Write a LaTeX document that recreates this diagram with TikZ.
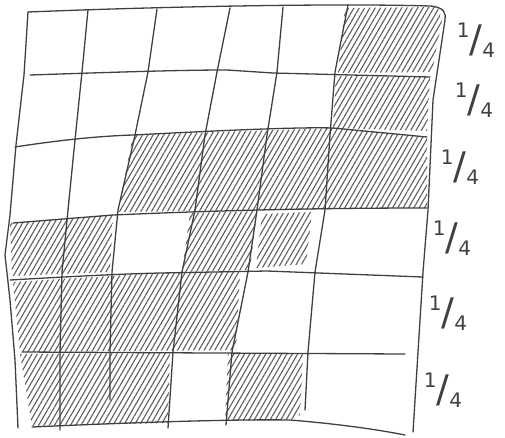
\documentclass[tikz,border=0pt]{standalone}
\usepackage{fontspec}
\setmainfont{DejaVu Sans}
\usetikzlibrary{patterns.meta}
\definecolor{ink}{HTML}{404040}
\tikzset{
  gridline/.style={draw=ink, line width=1.3pt, line cap=round, line join=round},
  hatch/.style={pattern={Lines[angle=60, distance=4.6pt, line width=1.1pt]}, pattern color=ink!85},
  frac/.style={text=ink, inner sep=0pt},
}
\newcommand{\quart}{{\fontsize{20}{20}\selectfont\raisebox{10pt}{1}\raisebox{-5pt}{\scalebox{1.9}{/}}\raisebox{-10pt}{4}}}
\begin{document}
\begin{tikzpicture}[x=1pt,y=-1pt]
\useasboundingbox (0,0) rectangle (505,437);
% hatched regions
\fill[hatch] (345,8) -- (438,7) -- (442,20) -- (432,72) -- (338,73) -- cycle;
\fill[hatch] (336,76) -- (430,77) -- (427,131) -- (333,128) -- cycle;
\fill[hatch] (133,135) -- (333,128) -- (427,137) -- (427,208) -- (118,212) -- cycle;
\fill[hatch] (10,223) -- (113,215) -- (110,272) -- (12,276) -- cycle;
\fill[hatch] (190,213) -- (257,211) -- (250,270) -- (182,272) -- cycle;
\fill[hatch] (262,214) -- (312,212) -- (306,264) -- (256,268) -- cycle;
\fill[hatch] (13,282) -- (160,273) -- (240,272) -- (236,350) -- (20,352) -- cycle;
\fill[hatch] (20,354) -- (170,353) -- (168,423) -- (32,426) -- cycle;
\fill[hatch] (228,354) -- (303,354) -- (300,415) -- (290,420) -- (225,421) -- cycle;
% outer border
\draw[gridline] (28,12) .. controls (150,7) and (330,3) .. (430,6)
  .. controls (445,7) and (446,14) .. (445,20)
  -- (433,100) -- (428,210) -- (423,272) -- (418,352) -- (413,432);
\draw[gridline] (28,12) -- (24,75) -- (16,145) -- (10,215) -- (5,255) -- (10,300) -- (15,360) -- (18,428);
\draw[gridline] (32,427) .. controls (120,423) and (230,419) .. (290,420) .. controls (340,424) and (380,430) .. (405,435);
% vertical lines
\draw[gridline] (88,10) -- (82,72) -- (75,140) -- (68,210) -- (62,272) -- (60,352) -- (60,430);
\draw[gridline] (157,9) -- (148,72) -- (135,135) -- (118,210) -- (112,272) -- (110,352) -- (110,400);
\draw[gridline] (230,8) -- (217,72) -- (205,135) -- (195,210) -- (182,272) -- (173,352) -- (168,428);
\draw[gridline] (283,7) -- (277,72) -- (267,135) -- (257,210) -- (248,272) -- (232,352) -- (226,425);
\draw[gridline] (348,5) -- (335,72) -- (330,135) -- (325,210) -- (315,272) -- (308,352) -- (305,410);
% horizontal lines
\draw[gridline] (30,75) .. controls (120,72) and (180,70) .. (227,70) -- (273,73) -- (430,77);
\draw[gridline] (15,147) .. controls (60,140) and (100,136) .. (133,135) .. controls (230,130) and (300,127) .. (333,128) -- (427,137);
\draw[gridline] (13,223) -- (113,215) .. controls (250,209) and (350,208) .. (427,208);
\draw[gridline] (10,280) .. controls (80,276) and (120,274) .. (160,273) -- (267,271) -- (423,277);
\draw[gridline] (22,352) -- (405,354);
% labels
\node[frac] (f1) at (476,40) {\quart};
\node[frac] (f2) at (474,100) {\quart};
\node[frac] (f3) at (460,167) {\quart};
\node[frac] (f4) at (452,238) {\quart};
\node[frac] (f5) at (448,313) {\quart};
\node[frac] (f6) at (443,390) {\quart};
\end{tikzpicture}
\end{document}
